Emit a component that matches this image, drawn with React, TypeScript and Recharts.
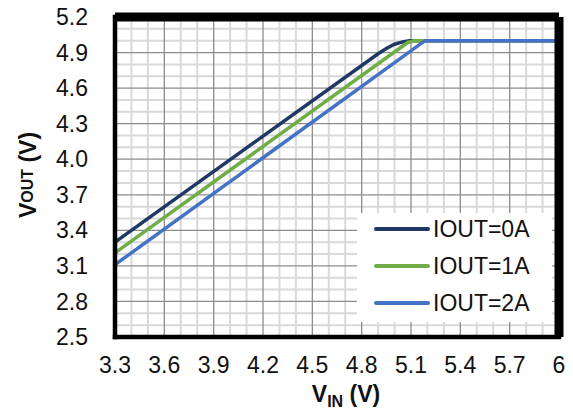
import React from "react";
import {
  LineChart,
  Line,
  XAxis,
  YAxis,
  ReferenceLine,
  Legend,
  Label,
} from "recharts";

// axis ticks (major grid)
const xTicks = [3.3, 3.6, 3.9, 4.2, 4.5, 4.8, 5.1, 5.4, 5.7, 6];
const yTicks = [2.5, 2.8, 3.1, 3.4, 3.7, 4.0, 4.3, 4.6, 4.9, 5.2];

// IOUT = 0A
const vin0 = [3.3, 4.9, 4.95, 5.0, 5.05, 5.09, 6.0];
const vout0 = [3.3, 4.89, 4.935, 4.97, 4.99, 5.0, 5.0];
// IOUT = 1A
const vin1 = [3.3, 5.08, 5.12, 6.0];
const vout1 = [3.21, 4.985, 5.0, 5.0];
// IOUT = 2A
const vin2 = [3.3, 5.185, 6.0];
const vout2 = [3.11, 5.0, 5.0];

const seriesNames = ["IOUT=0A", "IOUT=1A", "IOUT=2A"];
const seriesColors = ["#1f3864", "#70ad47", "#4472c4"];

const FONT = "'Liberation Sans', Arial, sans-serif";
const TEXT = "#111";
const BORDER = { stroke: "#000", strokeWidth: 4.5, strokeLinecap: "square" as const };

const toPoints = (xs: number[], ys: number[]) =>
  xs.map((x, i) => ({ vin: x, vout: ys[i] }));

const series = [
  toPoints(vin0, vout0),
  toPoints(vin1, vout1),
  toPoints(vin2, vout2),
];

// minor grid every 0.1 between the 0.3 major ticks
const xMinor = xTicks.slice(0, -1).flatMap((t) => [
  Math.round((t + 0.1) * 10) / 10,
  Math.round((t + 0.2) * 10) / 10,
]);
const yMinor = yTicks.slice(0, -1).flatMap((t) => [
  Math.round((t + 0.1) * 10) / 10,
  Math.round((t + 0.2) * 10) / 10,
]);

// grid lines: the frame edges get the heavy black stroke
const xGrid = xTicks.slice(0, -1);
const yGrid = yTicks.slice(0, -1);

function LegendBox() {
  return (
    <div
      style={{
        position: "relative",
        width: 195,
        height: 109,
        background: "#fff",
        fontFamily: FONT,
        fontSize: 23,
        color: TEXT,
      }}
    >
      {seriesNames.map((name, i) => (
        <div
          key={name}
          style={{
            position: "absolute",
            left: 0,
            top: 16 + 37 * i - 15,
            height: 30,
            display: "flex",
            alignItems: "center",
          }}
        >
          <svg width={76} height={30} style={{ display: "block" }}>
            <line
              x1={19}
              y1={15}
              x2={71}
              y2={15}
              stroke={seriesColors[i]}
              strokeWidth={4}
              strokeLinecap="round"
            />
          </svg>
          <span style={{ lineHeight: "30px", whiteSpace: "nowrap" }}>{name}</span>
        </div>
      ))}
    </div>
  );
}

function YTitle(props: any) {
  const cx = 36;
  const cy = 175;
  return (
    <text
      x={cx}
      y={cy}
      transform={`rotate(-90, ${cx}, ${cy})`}
      textAnchor="middle"
      fontFamily={FONT}
      fontWeight="bold"
      fontSize={23}
      fill={TEXT}
    >
      V
      <tspan fontSize={16} dy={-3}>
        OUT
      </tspan>
      <tspan dy={3}> (V)</tspan>
    </text>
  );
}

function XTitle(props: any) {
  return (
    <text
      x={346}
      y={402}
      textAnchor="middle"
      fontFamily={FONT}
      fontWeight="bold"
      fontSize={23}
      fill={TEXT}
    >
      V
      <tspan fontSize={16} dy={5}>
        IN
      </tspan>
      <tspan dy={-5}> (V)</tspan>
    </text>
  );
}

export default function App() {
  return (
    <div style={{ position: "absolute", left: 0, top: 0, width: 573, height: 412, background: "#fff" }}>
      <LineChart
        width={573}
        height={412}
        margin={{ top: 17, right: 14, bottom: 0, left: 0 }}
        style={{ fontFamily: FONT }}
      >
        {xMinor.map((v) => (
          <ReferenceLine key={`xm${v}`} x={v} stroke="#d9d9d9" strokeWidth={2} />
        ))}
        {yMinor.map((v) => (
          <ReferenceLine key={`ym${v}`} y={v} stroke="#d9d9d9" strokeWidth={2} />
        ))}
        {xGrid.map((v) => (
          <ReferenceLine key={`xM${v}`} x={v} stroke="#8c8c8c" strokeWidth={1.3} />
        ))}
        {yGrid.map((v) => (
          <ReferenceLine key={`yM${v}`} y={v} stroke="#8c8c8c" strokeWidth={1.3} />
        ))}

        {series.map((d, i) => (
          <Line
            key={seriesNames[i]}
            data={d}
            dataKey="vout"
            name={seriesNames[i]}
            type="linear"
            stroke={seriesColors[i]}
            strokeWidth={3.5}
            dot={false}
            activeDot={false}
            isAnimationActive={false}
          />
        ))}

        {/* top and right frame edges (only the inner half survives the plot clip) */}
        <ReferenceLine key="frame-top" y={5.2} stroke="#000" strokeWidth={9} />
        <ReferenceLine key="frame-right" x={6} stroke="#000" strokeWidth={9} />

        <XAxis
          dataKey="vin"
          type="number"
          domain={[3.3, 6]}
          ticks={xTicks}
          allowDuplicatedCategory={false}
          height={75}
          tickLine={false}
          axisLine={BORDER}
          tickSize={0}
          tickMargin={20}
          interval={0}
          tickFormatter={(v: number) => (v === 6 ? "6" : v.toFixed(1))}
          tick={{ fontSize: 23, fill: TEXT, fontFamily: FONT }}
        >
          <Label content={<XTitle />} />
        </XAxis>
        <YAxis
          dataKey="vout"
          type="number"
          domain={[2.5, 5.2]}
          ticks={yTicks}
          width={115}
          tickLine={false}
          axisLine={BORDER}
          tickSize={0}
          tickMargin={27}
          interval={0}
          tickFormatter={(v: number) => v.toFixed(1)}
          tick={{ fontSize: 23, fill: TEXT, fontFamily: FONT }}
        >
          <Label content={<YTitle />} />
        </YAxis>

        <Legend
          layout="vertical"
          align="center"
          verticalAlign="middle"
          content={<LegendBox />}
          wrapperStyle={{ left: 357, top: 213, width: 195, height: 109 }}
        />
      </LineChart>
    </div>
  );
}
